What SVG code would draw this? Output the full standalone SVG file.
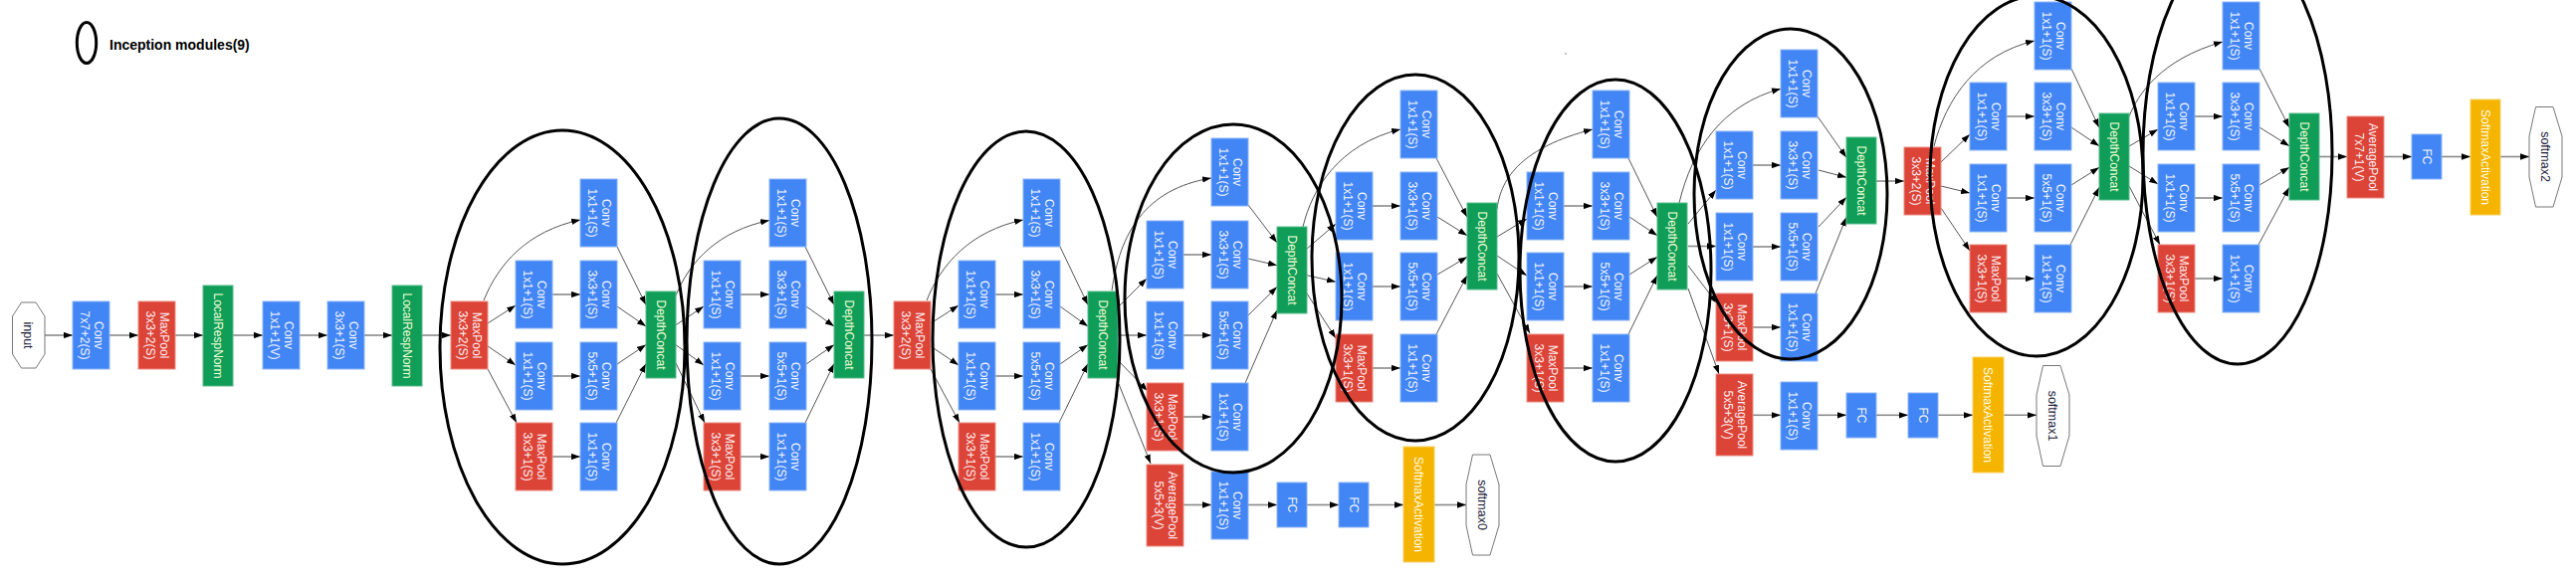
<svg xmlns="http://www.w3.org/2000/svg" width="2588" height="580" viewBox="0 0 2588 580">
<style>
.b{fill:#4285F4;stroke:#8AB4F8;stroke-width:1}
.r{fill:#DB4437;stroke:#EE8A80;stroke-width:1}
.g{fill:#0F9D58;stroke:#57BB8A;stroke-width:1}
.y{fill:#F4B400;stroke:#F8D060;stroke-width:1}
.o{fill:#fff;stroke:#777;stroke-width:1}
text{font-family:"Liberation Sans",Arial,sans-serif;font-size:12px;text-anchor:middle}
.tb{fill:#F2F6FF}.tr{fill:#FFEEF2}.tg{fill:#F4FFD6}.ty{fill:#FFFBEA}.to{fill:#1B1B3A;font-size:12.5px}
.e{fill:none;stroke:#555;stroke-width:1;marker-end:url(#ah)}
.h{fill:none;stroke:#8a8a8a;stroke-width:1.6;marker-end:url(#ah)}
.el{fill:none;stroke:#000;stroke-width:3}
.lg{font-family:"Liberation Sans",Arial,sans-serif;font-size:14px;font-weight:bold;text-anchor:start;fill:#000}
</style>
<defs>
<marker id="ah" viewBox="0 0 10 7" refX="10" refY="3.5" markerWidth="9" markerHeight="6.5" markerUnits="userSpaceOnUse" orient="auto"><path d="M0,0L10,3.5L0,7z" fill="#000"/></marker>
</defs>
<rect width="2588" height="580" fill="#fff"/>

<g id="connectors">
<line class="h" x1="45" y1="337" x2="73" y2="337"/>
<line class="h" x1="110" y1="337" x2="139" y2="337"/>
<line class="h" x1="176" y1="337" x2="204" y2="337"/>
<line class="h" x1="234" y1="337" x2="264" y2="337"/>
<line class="h" x1="301" y1="337" x2="329" y2="337"/>
<line class="h" x1="366" y1="337" x2="394" y2="337"/>
<line class="h" x1="424" y1="337" x2="453" y2="337"/>
<path class="e" d="M486,302C500.7,265 530,232.3 583,221"/>
<line class="e" x1="490" y1="325" x2="518" y2="307"/>
<line class="e" x1="490" y1="348" x2="518" y2="367"/>
<line class="e" x1="490" y1="371" x2="519" y2="425"/>
<line class="h" x1="555" y1="296" x2="583" y2="296"/>
<line class="h" x1="555" y1="378" x2="583" y2="378"/>
<line class="h" x1="555" y1="459" x2="583" y2="459"/>
<line class="e" x1="620" y1="248" x2="649" y2="306.5"/>
<line class="e" x1="620" y1="308" x2="649" y2="328"/>
<line class="e" x1="620" y1="366" x2="649" y2="346.5"/>
<line class="e" x1="619" y1="425" x2="649" y2="365.5"/>
<path class="e" d="M679,297C693,262.3 722,232 773,221.5"/>
<line class="e" x1="679" y1="326.7" x2="707" y2="308"/>
<line class="e" x1="679" y1="346.7" x2="707" y2="367"/>
<line class="e" x1="679" y1="365" x2="708" y2="425"/>
<line class="h" x1="744" y1="296" x2="773" y2="296"/>
<line class="h" x1="744" y1="378" x2="773" y2="378"/>
<line class="h" x1="744" y1="459" x2="773" y2="459"/>
<line class="e" x1="809" y1="248" x2="838" y2="306.5"/>
<line class="e" x1="810" y1="308" x2="838" y2="328"/>
<line class="e" x1="810" y1="366" x2="838" y2="346.5"/>
<line class="e" x1="809" y1="425" x2="838" y2="365.5"/>
<line class="h" x1="868" y1="337" x2="898" y2="337"/>
<path class="e" d="M931,302C945.7,265 975,232.3 1028,221"/>
<line class="e" x1="935" y1="325" x2="963" y2="307"/>
<line class="e" x1="935" y1="348" x2="963" y2="367"/>
<line class="e" x1="935" y1="371" x2="964" y2="425"/>
<line class="h" x1="1000" y1="296" x2="1028" y2="296"/>
<line class="h" x1="1000" y1="378" x2="1028" y2="378"/>
<line class="h" x1="1000" y1="459" x2="1028" y2="459"/>
<line class="e" x1="1065" y1="248" x2="1093" y2="306.5"/>
<line class="e" x1="1065" y1="308" x2="1093" y2="328"/>
<line class="e" x1="1065" y1="366" x2="1093" y2="346.5"/>
<line class="e" x1="1064" y1="425" x2="1093" y2="365.5"/>
<path class="e" d="M1117,292C1125,235 1150,190 1217,179"/>
<line class="e" x1="1124" y1="308" x2="1152" y2="280"/>
<line class="h" x1="1123" y1="337" x2="1152" y2="337"/>
<line class="e" x1="1124" y1="363" x2="1153" y2="393"/>
<line class="e" x1="1124" y1="386" x2="1156" y2="466"/>
<line class="h" x1="1189" y1="256" x2="1217" y2="256"/>
<line class="h" x1="1189" y1="337" x2="1217" y2="337"/>
<line class="h" x1="1189" y1="419" x2="1217" y2="419"/>
<line class="e" x1="1254" y1="206" x2="1283" y2="244"/>
<line class="e" x1="1254" y1="260" x2="1283" y2="266.7"/>
<line class="e" x1="1254" y1="317" x2="1283" y2="288.3"/>
<line class="e" x1="1251" y1="385" x2="1283" y2="311.7"/>
<path class="e" d="M1309,228C1318,190 1345,145 1407,130"/>
<line class="e" x1="1313" y1="250" x2="1342" y2="225"/>
<line class="e" x1="1313" y1="276.7" x2="1342" y2="283.3"/>
<line class="e" x1="1313" y1="295" x2="1342" y2="340"/>
<line class="h" x1="1379" y1="207" x2="1407" y2="207"/>
<line class="h" x1="1379" y1="288" x2="1407" y2="288"/>
<line class="h" x1="1379" y1="370" x2="1407" y2="370"/>
<line class="e" x1="1443" y1="159" x2="1474" y2="218.3"/>
<line class="e" x1="1444" y1="218" x2="1474" y2="236.7"/>
<line class="e" x1="1444" y1="276" x2="1474" y2="258.3"/>
<line class="e" x1="1443" y1="336" x2="1474" y2="276.7"/>
<path class="e" d="M1504,210C1508,178 1530,148 1600,130"/>
<line class="e" x1="1504" y1="238" x2="1534" y2="220"/>
<line class="e" x1="1504" y1="257" x2="1534" y2="277"/>
<line class="e" x1="1504" y1="275" x2="1537" y2="335"/>
<line class="h" x1="1571" y1="207" x2="1600" y2="207"/>
<line class="h" x1="1571" y1="288" x2="1600" y2="288"/>
<line class="h" x1="1571" y1="370" x2="1600" y2="370"/>
<line class="e" x1="1636" y1="159" x2="1665" y2="218.3"/>
<line class="e" x1="1637" y1="218" x2="1665" y2="236.7"/>
<line class="e" x1="1637" y1="276" x2="1665" y2="258.3"/>
<line class="e" x1="1636" y1="336" x2="1665" y2="276.7"/>
<path class="e" d="M1687,204C1700,150 1730,105 1789,89.3"/>
<line class="e" x1="1696" y1="225" x2="1724" y2="191"/>
<line class="h" x1="1696" y1="247.5" x2="1724" y2="247.5"/>
<line class="e" x1="1696" y1="267" x2="1725" y2="305"/>
<line class="e" x1="1696" y1="290" x2="1727" y2="376"/>
<line class="h" x1="1761" y1="166" x2="1789" y2="166"/>
<line class="h" x1="1761" y1="248" x2="1789" y2="248"/>
<line class="h" x1="1761" y1="329" x2="1789" y2="329"/>
<line class="e" x1="1826" y1="117" x2="1855" y2="158.3"/>
<line class="e" x1="1827" y1="171" x2="1855" y2="178.3"/>
<line class="e" x1="1827" y1="228" x2="1855" y2="198.3"/>
<line class="e" x1="1824" y1="295" x2="1855" y2="218.3"/>
<line class="h" x1="1885" y1="182" x2="1913" y2="182"/>
<path class="e" d="M1943,147C1955,100 1985,55 2044,41"/>
<line class="e" x1="1950" y1="163" x2="1979" y2="135"/>
<line class="e" x1="1950" y1="187" x2="1979" y2="194"/>
<line class="e" x1="1950" y1="209" x2="1979" y2="252"/>
<line class="h" x1="2016" y1="117" x2="2044" y2="117"/>
<line class="h" x1="2016" y1="199" x2="2044" y2="199"/>
<line class="h" x1="2016" y1="280" x2="2044" y2="280"/>
<line class="e" x1="2081" y1="69" x2="2109" y2="128.3"/>
<line class="e" x1="2081" y1="128" x2="2109" y2="146.7"/>
<line class="e" x1="2081" y1="186" x2="2109" y2="168.3"/>
<line class="e" x1="2080" y1="246" x2="2109" y2="188.3"/>
<path class="e" d="M2139,117C2148,95 2170,60 2233,42"/>
<line class="e" x1="2139" y1="147" x2="2168" y2="130"/>
<line class="e" x1="2139" y1="167" x2="2168" y2="185"/>
<line class="e" x1="2139" y1="187" x2="2170" y2="246"/>
<line class="h" x1="2205" y1="117" x2="2233" y2="117"/>
<line class="h" x1="2205" y1="199" x2="2233" y2="199"/>
<line class="h" x1="2205" y1="280" x2="2233" y2="280"/>
<line class="e" x1="2270" y1="69" x2="2300" y2="128.3"/>
<line class="e" x1="2270" y1="128" x2="2300" y2="146.7"/>
<line class="e" x1="2270" y1="186" x2="2300" y2="168.3"/>
<line class="e" x1="2269" y1="246" x2="2300" y2="188.3"/>
<line class="h" x1="2330" y1="157.5" x2="2358" y2="157.5"/>
<line class="h" x1="2395" y1="157.5" x2="2423" y2="157.5"/>
<line class="h" x1="2453" y1="157.5" x2="2482" y2="157.5"/>
<line class="h" x1="2512" y1="157.5" x2="2541" y2="157.5"/>
<line class="h" x1="1189" y1="507.5" x2="1217" y2="507.5"/>
<line class="h" x1="1254" y1="507.5" x2="1283" y2="507.5"/>
<line class="h" x1="1313" y1="507.5" x2="1345" y2="507.5"/>
<line class="h" x1="1375" y1="507.5" x2="1410" y2="507.5"/>
<line class="h" x1="1441" y1="507.5" x2="1473" y2="507.5"/>
<line class="h" x1="1761" y1="417.3" x2="1789" y2="417.3"/>
<line class="h" x1="1826" y1="417.3" x2="1855" y2="417.3"/>
<line class="h" x1="1885" y1="417.3" x2="1917" y2="417.3"/>
<line class="h" x1="1947" y1="417.3" x2="1982" y2="417.3"/>
<line class="h" x1="2013" y1="417.3" x2="2046" y2="417.3"/>
</g>

<g id="input"><polygon class="o" points="21.5,304 36,304 45,318 45,356 36,370 21.5,370 12.5,356 12.5,318"/><text class="to" transform="translate(28.7,337) rotate(90)" x="0" y="4.3">input</text></g>
<g id="conv1"><rect class="b" x="73" y="303" width="37" height="68"/><text class="tb" transform="translate(91.5,337) rotate(90)"><tspan x="0" y="-3.5">Conv</tspan><tspan x="0" y="10.5">7x7+2(S)</tspan></text></g>
<g id="pool1"><rect class="r" x="139" y="303" width="37" height="68"/><text class="tr" transform="translate(157.5,337) rotate(90)"><tspan x="0" y="-3.5">MaxPool</tspan><tspan x="0" y="10.5">3x3+2(S)</tspan></text></g>
<g id="lrn1"><rect class="g" x="204" y="287" width="30" height="101"/><text class="tg" transform="translate(219,337.5) rotate(90)" x="0" y="4.3">LocalRespNorm</text></g>
<g id="conv2a"><rect class="b" x="264" y="303" width="37" height="68"/><text class="tb" transform="translate(282.5,337) rotate(90)"><tspan x="0" y="-3.5">Conv</tspan><tspan x="0" y="10.5">1x1+1(V)</tspan></text></g>
<g id="conv2b"><rect class="b" x="329" y="303" width="37" height="68"/><text class="tb" transform="translate(347.5,337) rotate(90)"><tspan x="0" y="-3.5">Conv</tspan><tspan x="0" y="10.5">3x3+1(S)</tspan></text></g>
<g id="lrn2"><rect class="g" x="394" y="287" width="30" height="101"/><text class="tg" transform="translate(409,337.5) rotate(90)" x="0" y="4.3">LocalRespNorm</text></g>
<g id="pool2"><rect class="r" x="453" y="303" width="37" height="68"/><text class="tr" transform="translate(471.5,337) rotate(90)"><tspan x="0" y="-3.5">MaxPool</tspan><tspan x="0" y="10.5">3x3+2(S)</tspan></text></g>

<g id="i3a-c1r1"><rect class="b" x="518" y="262" width="37" height="68"/><text class="tb" transform="translate(536.5,296) rotate(90)"><tspan x="0" y="-3.5">Conv</tspan><tspan x="0" y="10.5">1x1+1(S)</tspan></text></g>
<g id="i3a-c1r2"><rect class="b" x="518" y="344" width="37" height="68"/><text class="tb" transform="translate(536.5,378) rotate(90)"><tspan x="0" y="-3.5">Conv</tspan><tspan x="0" y="10.5">1x1+1(S)</tspan></text></g>
<g id="i3a-c1r3"><rect class="r" x="518" y="425" width="37" height="68"/><text class="tr" transform="translate(536.5,459) rotate(90)"><tspan x="0" y="-3.5">MaxPool</tspan><tspan x="0" y="10.5">3x3+1(S)</tspan></text></g>
<g id="i3a-c2r0"><rect class="b" x="583" y="180" width="37" height="68"/><text class="tb" transform="translate(601.5,214) rotate(90)"><tspan x="0" y="-3.5">Conv</tspan><tspan x="0" y="10.5">1x1+1(S)</tspan></text></g>
<g id="i3a-c2r1"><rect class="b" x="583" y="262" width="37" height="68"/><text class="tb" transform="translate(601.5,296) rotate(90)"><tspan x="0" y="-3.5">Conv</tspan><tspan x="0" y="10.5">3x3+1(S)</tspan></text></g>
<g id="i3a-c2r2"><rect class="b" x="583" y="344" width="37" height="68"/><text class="tb" transform="translate(601.5,378) rotate(90)"><tspan x="0" y="-3.5">Conv</tspan><tspan x="0" y="10.5">5x5+1(S)</tspan></text></g>
<g id="i3a-c2r3"><rect class="b" x="583" y="425" width="37" height="68"/><text class="tb" transform="translate(601.5,459) rotate(90)"><tspan x="0" y="-3.5">Conv</tspan><tspan x="0" y="10.5">1x1+1(S)</tspan></text></g>
<g id="i3a-dc"><rect class="g" x="649" y="293" width="30" height="87"/><text class="tg" transform="translate(664,336.5) rotate(90)" x="0" y="4.3">DepthConcat</text></g>

<g id="i3b-c1r1"><rect class="b" x="707" y="262" width="37" height="68"/><text class="tb" transform="translate(725.5,296) rotate(90)"><tspan x="0" y="-3.5">Conv</tspan><tspan x="0" y="10.5">1x1+1(S)</tspan></text></g>
<g id="i3b-c1r2"><rect class="b" x="707" y="344" width="37" height="68"/><text class="tb" transform="translate(725.5,378) rotate(90)"><tspan x="0" y="-3.5">Conv</tspan><tspan x="0" y="10.5">1x1+1(S)</tspan></text></g>
<g id="i3b-c1r3"><rect class="r" x="707" y="425" width="37" height="68"/><text class="tr" transform="translate(725.5,459) rotate(90)"><tspan x="0" y="-3.5">MaxPool</tspan><tspan x="0" y="10.5">3x3+1(S)</tspan></text></g>
<g id="i3b-c2r0"><rect class="b" x="773" y="180" width="37" height="68"/><text class="tb" transform="translate(791.5,214) rotate(90)"><tspan x="0" y="-3.5">Conv</tspan><tspan x="0" y="10.5">1x1+1(S)</tspan></text></g>
<g id="i3b-c2r1"><rect class="b" x="773" y="262" width="37" height="68"/><text class="tb" transform="translate(791.5,296) rotate(90)"><tspan x="0" y="-3.5">Conv</tspan><tspan x="0" y="10.5">3x3+1(S)</tspan></text></g>
<g id="i3b-c2r2"><rect class="b" x="773" y="344" width="37" height="68"/><text class="tb" transform="translate(791.5,378) rotate(90)"><tspan x="0" y="-3.5">Conv</tspan><tspan x="0" y="10.5">5x5+1(S)</tspan></text></g>
<g id="i3b-c2r3"><rect class="b" x="773" y="425" width="37" height="68"/><text class="tb" transform="translate(791.5,459) rotate(90)"><tspan x="0" y="-3.5">Conv</tspan><tspan x="0" y="10.5">1x1+1(S)</tspan></text></g>
<g id="i3b-dc"><rect class="g" x="838" y="293" width="30" height="87"/><text class="tg" transform="translate(853,336.5) rotate(90)" x="0" y="4.3">DepthConcat</text></g>

<g id="pool3"><rect class="r" x="898" y="303" width="37" height="68"/><text class="tr" transform="translate(916.5,337) rotate(90)"><tspan x="0" y="-3.5">MaxPool</tspan><tspan x="0" y="10.5">3x3+2(S)</tspan></text></g>

<g id="i4a-c1r1"><rect class="b" x="963" y="262" width="37" height="68"/><text class="tb" transform="translate(981.5,296) rotate(90)"><tspan x="0" y="-3.5">Conv</tspan><tspan x="0" y="10.5">1x1+1(S)</tspan></text></g>
<g id="i4a-c1r2"><rect class="b" x="963" y="344" width="37" height="68"/><text class="tb" transform="translate(981.5,378) rotate(90)"><tspan x="0" y="-3.5">Conv</tspan><tspan x="0" y="10.5">1x1+1(S)</tspan></text></g>
<g id="i4a-c1r3"><rect class="r" x="963" y="425" width="37" height="68"/><text class="tr" transform="translate(981.5,459) rotate(90)"><tspan x="0" y="-3.5">MaxPool</tspan><tspan x="0" y="10.5">3x3+1(S)</tspan></text></g>
<g id="i4a-c2r0"><rect class="b" x="1028" y="180" width="37" height="68"/><text class="tb" transform="translate(1046.5,214) rotate(90)"><tspan x="0" y="-3.5">Conv</tspan><tspan x="0" y="10.5">1x1+1(S)</tspan></text></g>
<g id="i4a-c2r1"><rect class="b" x="1028" y="262" width="37" height="68"/><text class="tb" transform="translate(1046.5,296) rotate(90)"><tspan x="0" y="-3.5">Conv</tspan><tspan x="0" y="10.5">3x3+1(S)</tspan></text></g>
<g id="i4a-c2r2"><rect class="b" x="1028" y="344" width="37" height="68"/><text class="tb" transform="translate(1046.5,378) rotate(90)"><tspan x="0" y="-3.5">Conv</tspan><tspan x="0" y="10.5">5x5+1(S)</tspan></text></g>
<g id="i4a-c2r3"><rect class="b" x="1028" y="425" width="37" height="68"/><text class="tb" transform="translate(1046.5,459) rotate(90)"><tspan x="0" y="-3.5">Conv</tspan><tspan x="0" y="10.5">1x1+1(S)</tspan></text></g>
<g id="i4a-dc"><rect class="g" x="1093" y="293" width="30" height="87"/><text class="tg" transform="translate(1108,336.5) rotate(90)" x="0" y="4.3">DepthConcat</text></g>

<g id="i4b-c1r1"><rect class="b" x="1152" y="222" width="37" height="68"/><text class="tb" transform="translate(1170.5,256) rotate(90)"><tspan x="0" y="-3.5">Conv</tspan><tspan x="0" y="10.5">1x1+1(S)</tspan></text></g>
<g id="i4b-c1r2"><rect class="b" x="1152" y="303" width="37" height="68"/><text class="tb" transform="translate(1170.5,337) rotate(90)"><tspan x="0" y="-3.5">Conv</tspan><tspan x="0" y="10.5">1x1+1(S)</tspan></text></g>
<g id="i4b-c1r3"><rect class="r" x="1152" y="385" width="37" height="68"/><text class="tr" transform="translate(1170.5,419) rotate(90)"><tspan x="0" y="-3.5">MaxPool</tspan><tspan x="0" y="10.5">3x3+1(S)</tspan></text></g>
<g id="i4b-c2r0"><rect class="b" x="1217" y="139" width="37" height="68"/><text class="tb" transform="translate(1235.5,173) rotate(90)"><tspan x="0" y="-3.5">Conv</tspan><tspan x="0" y="10.5">1x1+1(S)</tspan></text></g>
<g id="i4b-c2r1"><rect class="b" x="1217" y="222" width="37" height="68"/><text class="tb" transform="translate(1235.5,256) rotate(90)"><tspan x="0" y="-3.5">Conv</tspan><tspan x="0" y="10.5">3x3+1(S)</tspan></text></g>
<g id="i4b-c2r2"><rect class="b" x="1217" y="303" width="37" height="68"/><text class="tb" transform="translate(1235.5,337) rotate(90)"><tspan x="0" y="-3.5">Conv</tspan><tspan x="0" y="10.5">5x5+1(S)</tspan></text></g>
<g id="i4b-c2r3"><rect class="b" x="1217" y="385" width="37" height="68"/><text class="tb" transform="translate(1235.5,419) rotate(90)"><tspan x="0" y="-3.5">Conv</tspan><tspan x="0" y="10.5">1x1+1(S)</tspan></text></g>
<g id="i4b-dc"><rect class="g" x="1283" y="228" width="30" height="87"/><text class="tg" transform="translate(1298,271.5) rotate(90)" x="0" y="4.3">DepthConcat</text></g>

<g id="i4c-c1r1"><rect class="b" x="1342" y="173" width="37" height="68"/><text class="tb" transform="translate(1360.5,207) rotate(90)"><tspan x="0" y="-3.5">Conv</tspan><tspan x="0" y="10.5">1x1+1(S)</tspan></text></g>
<g id="i4c-c1r2"><rect class="b" x="1342" y="254" width="37" height="68"/><text class="tb" transform="translate(1360.5,288) rotate(90)"><tspan x="0" y="-3.5">Conv</tspan><tspan x="0" y="10.5">1x1+1(S)</tspan></text></g>
<g id="i4c-c1r3"><rect class="r" x="1342" y="336" width="37" height="68"/><text class="tr" transform="translate(1360.5,370) rotate(90)"><tspan x="0" y="-3.5">MaxPool</tspan><tspan x="0" y="10.5">3x3+1(S)</tspan></text></g>
<g id="i4c-c2r0"><rect class="b" x="1407" y="91" width="37" height="68"/><text class="tb" transform="translate(1425.5,125) rotate(90)"><tspan x="0" y="-3.5">Conv</tspan><tspan x="0" y="10.5">1x1+1(S)</tspan></text></g>
<g id="i4c-c2r1"><rect class="b" x="1407" y="173" width="37" height="68"/><text class="tb" transform="translate(1425.5,207) rotate(90)"><tspan x="0" y="-3.5">Conv</tspan><tspan x="0" y="10.5">3x3+1(S)</tspan></text></g>
<g id="i4c-c2r2"><rect class="b" x="1407" y="254" width="37" height="68"/><text class="tb" transform="translate(1425.5,288) rotate(90)"><tspan x="0" y="-3.5">Conv</tspan><tspan x="0" y="10.5">5x5+1(S)</tspan></text></g>
<g id="i4c-c2r3"><rect class="b" x="1407" y="336" width="37" height="68"/><text class="tb" transform="translate(1425.5,370) rotate(90)"><tspan x="0" y="-3.5">Conv</tspan><tspan x="0" y="10.5">1x1+1(S)</tspan></text></g>
<g id="i4c-dc"><rect class="g" x="1474" y="204" width="30" height="87"/><text class="tg" transform="translate(1489,247.5) rotate(90)" x="0" y="4.3">DepthConcat</text></g>

<g id="i4d-c1r1"><rect class="b" x="1534" y="173" width="37" height="68"/><text class="tb" transform="translate(1552.5,207) rotate(90)"><tspan x="0" y="-3.5">Conv</tspan><tspan x="0" y="10.5">1x1+1(S)</tspan></text></g>
<g id="i4d-c1r2"><rect class="b" x="1534" y="254" width="37" height="68"/><text class="tb" transform="translate(1552.5,288) rotate(90)"><tspan x="0" y="-3.5">Conv</tspan><tspan x="0" y="10.5">1x1+1(S)</tspan></text></g>
<g id="i4d-c1r3"><rect class="r" x="1534" y="336" width="37" height="68"/><text class="tr" transform="translate(1552.5,370) rotate(90)"><tspan x="0" y="-3.5">MaxPool</tspan><tspan x="0" y="10.5">3x3+1(S)</tspan></text></g>
<g id="i4d-c2r0"><rect class="b" x="1600" y="91" width="37" height="68"/><text class="tb" transform="translate(1618.5,125) rotate(90)"><tspan x="0" y="-3.5">Conv</tspan><tspan x="0" y="10.5">1x1+1(S)</tspan></text></g>
<g id="i4d-c2r1"><rect class="b" x="1600" y="173" width="37" height="68"/><text class="tb" transform="translate(1618.5,207) rotate(90)"><tspan x="0" y="-3.5">Conv</tspan><tspan x="0" y="10.5">3x3+1(S)</tspan></text></g>
<g id="i4d-c2r2"><rect class="b" x="1600" y="254" width="37" height="68"/><text class="tb" transform="translate(1618.5,288) rotate(90)"><tspan x="0" y="-3.5">Conv</tspan><tspan x="0" y="10.5">5x5+1(S)</tspan></text></g>
<g id="i4d-c2r3"><rect class="b" x="1600" y="336" width="37" height="68"/><text class="tb" transform="translate(1618.5,370) rotate(90)"><tspan x="0" y="-3.5">Conv</tspan><tspan x="0" y="10.5">1x1+1(S)</tspan></text></g>
<g id="i4d-dc"><rect class="g" x="1665" y="204" width="30" height="87"/><text class="tg" transform="translate(1680,247.5) rotate(90)" x="0" y="4.3">DepthConcat</text></g>

<g id="i4e-c1r1"><rect class="b" x="1724" y="132" width="37" height="68"/><text class="tb" transform="translate(1742.5,166) rotate(90)"><tspan x="0" y="-3.5">Conv</tspan><tspan x="0" y="10.5">1x1+1(S)</tspan></text></g>
<g id="i4e-c1r2"><rect class="b" x="1724" y="214" width="37" height="68"/><text class="tb" transform="translate(1742.5,248) rotate(90)"><tspan x="0" y="-3.5">Conv</tspan><tspan x="0" y="10.5">1x1+1(S)</tspan></text></g>
<g id="i4e-c1r3"><rect class="r" x="1724" y="295" width="37" height="68"/><text class="tr" transform="translate(1742.5,329) rotate(90)"><tspan x="0" y="-3.5">MaxPool</tspan><tspan x="0" y="10.5">3x3+1(S)</tspan></text></g>
<g id="i4e-c2r0"><rect class="b" x="1789" y="50" width="37" height="68"/><text class="tb" transform="translate(1807.5,84) rotate(90)"><tspan x="0" y="-3.5">Conv</tspan><tspan x="0" y="10.5">1x1+1(S)</tspan></text></g>
<g id="i4e-c2r1"><rect class="b" x="1789" y="132" width="37" height="68"/><text class="tb" transform="translate(1807.5,166) rotate(90)"><tspan x="0" y="-3.5">Conv</tspan><tspan x="0" y="10.5">3x3+1(S)</tspan></text></g>
<g id="i4e-c2r2"><rect class="b" x="1789" y="214" width="37" height="68"/><text class="tb" transform="translate(1807.5,248) rotate(90)"><tspan x="0" y="-3.5">Conv</tspan><tspan x="0" y="10.5">5x5+1(S)</tspan></text></g>
<g id="i4e-c2r3"><rect class="b" x="1789" y="295" width="37" height="68"/><text class="tb" transform="translate(1807.5,329) rotate(90)"><tspan x="0" y="-3.5">Conv</tspan><tspan x="0" y="10.5">1x1+1(S)</tspan></text></g>
<g id="i4e-dc"><rect class="g" x="1855" y="138" width="30" height="87"/><text class="tg" transform="translate(1870,181.5) rotate(90)" x="0" y="4.3">DepthConcat</text></g>

<g id="pool4"><rect class="r" x="1913" y="148" width="37" height="68"/><text class="tr" transform="translate(1931.5,182) rotate(90)"><tspan x="0" y="-3.5">MaxPool</tspan><tspan x="0" y="10.5">3x3+2(S)</tspan></text></g>

<g id="i5a-c1r1"><rect class="b" x="1979" y="83" width="37" height="68"/><text class="tb" transform="translate(1997.5,117) rotate(90)"><tspan x="0" y="-3.5">Conv</tspan><tspan x="0" y="10.5">1x1+1(S)</tspan></text></g>
<g id="i5a-c1r2"><rect class="b" x="1979" y="165" width="37" height="68"/><text class="tb" transform="translate(1997.5,199) rotate(90)"><tspan x="0" y="-3.5">Conv</tspan><tspan x="0" y="10.5">1x1+1(S)</tspan></text></g>
<g id="i5a-c1r3"><rect class="r" x="1979" y="246" width="37" height="68"/><text class="tr" transform="translate(1997.5,280) rotate(90)"><tspan x="0" y="-3.5">MaxPool</tspan><tspan x="0" y="10.5">3x3+1(S)</tspan></text></g>
<g id="i5a-c2r0"><rect class="b" x="2044" y="2" width="37" height="68"/><text class="tb" transform="translate(2062.5,36) rotate(90)"><tspan x="0" y="-3.5">Conv</tspan><tspan x="0" y="10.5">1x1+1(S)</tspan></text></g>
<g id="i5a-c2r1"><rect class="b" x="2044" y="83" width="37" height="68"/><text class="tb" transform="translate(2062.5,117) rotate(90)"><tspan x="0" y="-3.5">Conv</tspan><tspan x="0" y="10.5">3x3+1(S)</tspan></text></g>
<g id="i5a-c2r2"><rect class="b" x="2044" y="165" width="37" height="68"/><text class="tb" transform="translate(2062.5,199) rotate(90)"><tspan x="0" y="-3.5">Conv</tspan><tspan x="0" y="10.5">5x5+1(S)</tspan></text></g>
<g id="i5a-c2r3"><rect class="b" x="2044" y="246" width="37" height="68"/><text class="tb" transform="translate(2062.5,280) rotate(90)"><tspan x="0" y="-3.5">Conv</tspan><tspan x="0" y="10.5">1x1+1(S)</tspan></text></g>
<g id="i5a-dc"><rect class="g" x="2109" y="114" width="30" height="87"/><text class="tg" transform="translate(2124,157.5) rotate(90)" x="0" y="4.3">DepthConcat</text></g>

<g id="i5b-c1r1"><rect class="b" x="2168" y="83" width="37" height="68"/><text class="tb" transform="translate(2186.5,117) rotate(90)"><tspan x="0" y="-3.5">Conv</tspan><tspan x="0" y="10.5">1x1+1(S)</tspan></text></g>
<g id="i5b-c1r2"><rect class="b" x="2168" y="165" width="37" height="68"/><text class="tb" transform="translate(2186.5,199) rotate(90)"><tspan x="0" y="-3.5">Conv</tspan><tspan x="0" y="10.5">1x1+1(S)</tspan></text></g>
<g id="i5b-c1r3"><rect class="r" x="2168" y="246" width="37" height="68"/><text class="tr" transform="translate(2186.5,280) rotate(90)"><tspan x="0" y="-3.5">MaxPool</tspan><tspan x="0" y="10.5">3x3+1(S)</tspan></text></g>
<g id="i5b-c2r0"><rect class="b" x="2233" y="2" width="37" height="68"/><text class="tb" transform="translate(2251.5,36) rotate(90)"><tspan x="0" y="-3.5">Conv</tspan><tspan x="0" y="10.5">1x1+1(S)</tspan></text></g>
<g id="i5b-c2r1"><rect class="b" x="2233" y="83" width="37" height="68"/><text class="tb" transform="translate(2251.5,117) rotate(90)"><tspan x="0" y="-3.5">Conv</tspan><tspan x="0" y="10.5">3x3+1(S)</tspan></text></g>
<g id="i5b-c2r2"><rect class="b" x="2233" y="165" width="37" height="68"/><text class="tb" transform="translate(2251.5,199) rotate(90)"><tspan x="0" y="-3.5">Conv</tspan><tspan x="0" y="10.5">5x5+1(S)</tspan></text></g>
<g id="i5b-c2r3"><rect class="b" x="2233" y="246" width="37" height="68"/><text class="tb" transform="translate(2251.5,280) rotate(90)"><tspan x="0" y="-3.5">Conv</tspan><tspan x="0" y="10.5">1x1+1(S)</tspan></text></g>
<g id="i5b-dc"><rect class="g" x="2300" y="114" width="30" height="87"/><text class="tg" transform="translate(2315,157.5) rotate(90)" x="0" y="4.3">DepthConcat</text></g>

<g id="avgpool-final"><rect class="r" x="2358" y="117" width="37" height="82"/><text class="tr" transform="translate(2376.5,158) rotate(90)"><tspan x="0" y="-3.5">AveragePool</tspan><tspan x="0" y="10.5">7x7+1(V)</tspan></text></g>
<g id="fc-final"><rect class="b" x="2423" y="135" width="30" height="45"/><text class="tb" transform="translate(2438,157.5) rotate(90)" x="0" y="4.3">FC</text></g>
<g id="softmaxact2"><rect class="y" x="2482" y="100" width="30" height="116"/><text class="ty" transform="translate(2497,158) rotate(90)" x="0" y="4.3">SoftmaxActivation</text></g>
<g id="softmax2"><polygon class="o" points="2547.5,107.5 2565,107.5 2574,137 2574,178 2565,208 2547.5,208 2541,178 2541,137"/><text class="to" transform="translate(2557.5,157.5) rotate(90)" x="0" y="4.3">softmax2</text></g>

<g id="aux0-avgpool"><rect class="r" x="1152" y="467" width="37" height="82"/><text class="tr" transform="translate(1170.5,508) rotate(90)"><tspan x="0" y="-3.5">AveragePool</tspan><tspan x="0" y="10.5">5x5+3(V)</tspan></text></g>
<g id="aux0-conv"><rect class="b" x="1217" y="474" width="37" height="68"/><text class="tb" transform="translate(1235.5,508) rotate(90)"><tspan x="0" y="-3.5">Conv</tspan><tspan x="0" y="10.5">1x1+1(S)</tspan></text></g>
<g id="aux0-fc1"><rect class="b" x="1283" y="485" width="30" height="45"/><text class="tb" transform="translate(1298,507.5) rotate(90)" x="0" y="4.3">FC</text></g>
<g id="aux0-fc2"><rect class="b" x="1345" y="485" width="30" height="45"/><text class="tb" transform="translate(1360,507.5) rotate(90)" x="0" y="4.3">FC</text></g>
<g id="softmaxact0"><rect class="y" x="1410" y="449" width="31" height="116"/><text class="ty" transform="translate(1425.5,507) rotate(90)" x="0" y="4.3">SoftmaxActivation</text></g>
<g id="softmax0"><polygon class="o" points="1479.5,457 1497,457 1506,487 1506,528 1497,558 1479.5,558 1473,528 1473,487"/><text class="to" transform="translate(1489.5,507.5) rotate(90)" x="0" y="4.3">softmax0</text></g>

<g id="aux1-avgpool"><rect class="r" x="1724" y="376" width="37" height="82"/><text class="tr" transform="translate(1742.5,417) rotate(90)"><tspan x="0" y="-3.5">AveragePool</tspan><tspan x="0" y="10.5">5x5+3(V)</tspan></text></g>
<g id="aux1-conv"><rect class="b" x="1789" y="384" width="37" height="68"/><text class="tb" transform="translate(1807.5,418) rotate(90)"><tspan x="0" y="-3.5">Conv</tspan><tspan x="0" y="10.5">1x1+1(S)</tspan></text></g>
<g id="aux1-fc1"><rect class="b" x="1855" y="395" width="30" height="45"/><text class="tb" transform="translate(1870,417.5) rotate(90)" x="0" y="4.3">FC</text></g>
<g id="aux1-fc2"><rect class="b" x="1917" y="395" width="30" height="45"/><text class="tb" transform="translate(1932,417.5) rotate(90)" x="0" y="4.3">FC</text></g>
<g id="softmaxact1"><rect class="y" x="1982" y="359" width="31" height="116"/><text class="ty" transform="translate(1997.5,417) rotate(90)" x="0" y="4.3">SoftmaxActivation</text></g>
<g id="softmax1"><polygon class="o" points="2052.5,367.5 2070,367.5 2079,397 2079,438 2070,468.5 2052.5,468.5 2046,438 2046,397"/><text class="to" transform="translate(2062.5,418) rotate(90)" x="0" y="4.3">softmax1</text></g>

<g id="inception-outlines">
<ellipse class="el" cx="565" cy="349" rx="123" ry="218"/>
<ellipse class="el" cx="783" cy="343" rx="93" ry="224"/>
<ellipse class="el" cx="1031" cy="341" rx="94" ry="209"/>
<ellipse class="el" cx="1239" cy="300" rx="109" ry="175"/>
<ellipse class="el" cx="1422" cy="259" rx="104" ry="184"/>
<ellipse class="el" cx="1623" cy="272" rx="96" ry="192"/>
<ellipse class="el" cx="1799" cy="195" rx="97" ry="166"/>
<ellipse class="el" cx="2046" cy="177" rx="107" ry="181"/>
<ellipse class="el" cx="2248" cy="154" rx="95" ry="212"/>
</g>

<g id="legend">
<ellipse class="el" cx="87" cy="43" rx="9.7" ry="20.5"/>
<text class="lg" x="110" y="50">Inception modules(9)</text>
</g>
<circle cx="1573" cy="54" r="0.8" fill="#777"/>
</svg>
